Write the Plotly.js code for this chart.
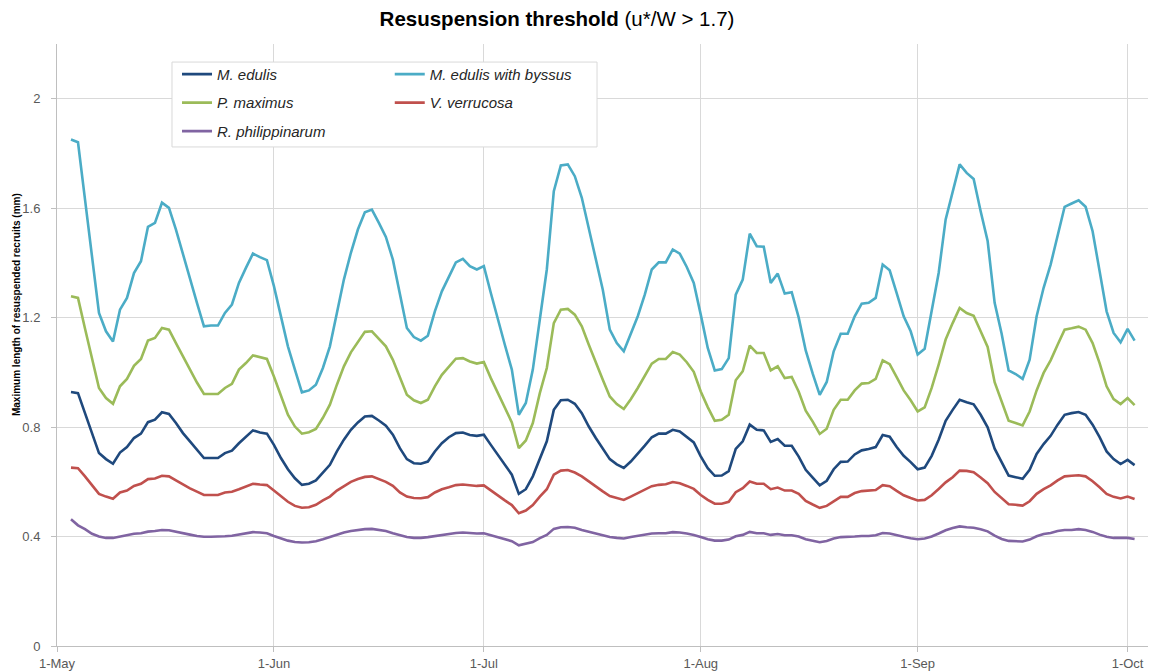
<!DOCTYPE html>
<html>
<head>
<meta charset="utf-8">
<script src="https://cdn.plot.ly/plotly-3.0.1.min.js"></script>
<style>html,body{margin:0;padding:0;background:#fff;}#chart{width:1154px;height:672px;}</style>
</head>
<body>
<div id="chart"></div>
<script>
// Daily series, first day and number of days
const startDate = [2013, 4, 3]; // 3 May 2013 (month is 0-based)
const nDays = 153;

const seriesNames = ["M. edulis", "M. edulis with byssus", "P. maximus", "V. verrucosa", "R. philippinarum"];
const seriesColors = ["#1f497d", "#4bacc6", "#9bbb59", "#c0504d", "#8064a2"];

const mEdulisByssus = [
1.851,1.841,1.632,1.424,1.217,1.150,1.113,1.229,1.272,1.363,1.406,1.532,1.546,1.620,1.601,1.522,1.430,1.339,1.254,1.168,
1.171,1.171,1.217,1.248,1.327,1.382,1.434,1.421,1.410,1.315,1.205,1.095,1.010,0.927,0.934,0.955,1.016,1.095,1.217,1.339,
1.437,1.522,1.585,1.595,1.546,1.495,1.412,1.290,1.162,1.129,1.116,1.134,1.223,1.296,1.351,1.402,1.415,1.388,1.376,1.388,
1.290,1.193,1.101,1.010,0.845,0.888,1.010,1.193,1.376,1.662,1.756,1.760,1.717,1.638,1.522,1.412,1.302,1.156,1.107,1.077,
1.141,1.205,1.284,1.376,1.402,1.402,1.449,1.434,1.385,1.327,1.211,1.089,1.007,1.012,1.052,1.284,1.339,1.507,1.461,1.459,
1.327,1.361,1.288,1.293,1.200,1.080,0.995,0.918,0.965,1.077,1.141,1.141,1.205,1.251,1.254,1.272,1.394,1.373,1.290,1.205,
1.150,1.065,1.086,1.220,1.363,1.559,1.656,1.760,1.729,1.707,1.589,1.480,1.254,1.141,1.007,0.994,0.976,1.046,1.205,1.309,
1.394,1.504,1.605,1.617,1.629,1.605,1.516,1.370,1.223,1.144,1.110,1.159,1.116];

const pMaximus = [
1.278,1.272,1.160,1.049,0.943,0.906,0.885,0.949,0.976,1.024,1.049,1.116,1.126,1.162,1.156,1.107,1.059,1.010,0.963,0.921,
0.921,0.921,0.943,0.958,1.010,1.034,1.062,1.056,1.049,0.985,0.912,0.845,0.802,0.776,0.781,0.793,0.834,0.882,0.955,1.022,
1.073,1.113,1.148,1.150,1.122,1.095,1.046,0.985,0.918,0.898,0.888,0.900,0.949,0.991,1.020,1.050,1.052,1.040,1.032,1.038,
0.979,0.924,0.870,0.817,0.723,0.751,0.815,0.924,1.016,1.180,1.229,1.232,1.211,1.168,1.101,1.034,0.973,0.912,0.884,0.866,
0.902,0.943,0.988,1.032,1.049,1.049,1.074,1.065,1.037,1.002,0.930,0.873,0.823,0.827,0.845,0.971,1.004,1.098,1.071,1.071,
1.007,1.022,0.979,0.983,0.929,0.860,0.820,0.775,0.794,0.863,0.900,0.900,0.934,0.959,0.961,0.976,1.044,1.030,0.983,0.934,
0.898,0.857,0.872,0.943,1.028,1.120,1.180,1.235,1.217,1.207,1.150,1.093,0.964,0.890,0.823,0.815,0.806,0.857,0.934,0.998,
1.044,1.101,1.156,1.161,1.167,1.156,1.107,1.034,0.949,0.902,0.884,0.906,0.880];

const mEdulis = [
0.928,0.924,0.851,0.778,0.705,0.683,0.666,0.707,0.727,0.760,0.776,0.818,0.827,0.854,0.848,0.815,0.778,0.748,0.717,0.687,
0.687,0.687,0.705,0.714,0.741,0.766,0.788,0.780,0.776,0.735,0.687,0.646,0.613,0.589,0.593,0.605,0.632,0.662,0.711,0.754,
0.790,0.817,0.839,0.841,0.824,0.805,0.772,0.723,0.683,0.668,0.666,0.674,0.711,0.741,0.763,0.778,0.780,0.771,0.768,0.772,
0.735,0.699,0.662,0.626,0.556,0.573,0.620,0.687,0.748,0.863,0.898,0.900,0.885,0.851,0.802,0.760,0.720,0.683,0.664,0.651,
0.674,0.702,0.732,0.763,0.776,0.776,0.790,0.784,0.763,0.744,0.693,0.650,0.622,0.623,0.639,0.720,0.748,0.809,0.790,0.788,
0.746,0.756,0.732,0.732,0.692,0.644,0.615,0.587,0.604,0.646,0.673,0.674,0.700,0.715,0.720,0.727,0.771,0.765,0.727,0.695,
0.672,0.646,0.652,0.695,0.754,0.823,0.863,0.900,0.891,0.883,0.845,0.799,0.721,0.671,0.623,0.617,0.611,0.644,0.702,0.738,
0.768,0.809,0.845,0.851,0.855,0.845,0.809,0.763,0.711,0.683,0.665,0.680,0.661];

const vVerrucosa = [
0.652,0.650,0.620,0.588,0.556,0.546,0.538,0.561,0.568,0.585,0.593,0.610,0.612,0.622,0.620,0.605,0.589,0.576,0.564,0.552,
0.552,0.552,0.561,0.564,0.573,0.583,0.593,0.590,0.588,0.568,0.546,0.527,0.512,0.505,0.507,0.516,0.532,0.546,0.568,0.585,
0.600,0.610,0.618,0.620,0.610,0.600,0.585,0.561,0.546,0.541,0.540,0.544,0.561,0.573,0.580,0.588,0.590,0.587,0.585,0.587,
0.568,0.549,0.532,0.515,0.485,0.495,0.515,0.546,0.573,0.626,0.641,0.643,0.634,0.620,0.601,0.583,0.565,0.548,0.540,0.534,
0.546,0.559,0.571,0.584,0.589,0.591,0.599,0.595,0.585,0.574,0.552,0.534,0.520,0.520,0.527,0.562,0.577,0.601,0.593,0.593,
0.573,0.579,0.568,0.568,0.556,0.530,0.517,0.505,0.512,0.530,0.545,0.545,0.559,0.566,0.568,0.570,0.588,0.584,0.567,0.551,
0.541,0.532,0.534,0.551,0.574,0.598,0.617,0.641,0.640,0.635,0.616,0.595,0.563,0.539,0.518,0.516,0.513,0.529,0.556,0.573,
0.587,0.605,0.620,0.622,0.624,0.620,0.602,0.580,0.556,0.545,0.539,0.546,0.537];

const rPhilippinarum = [
0.463,0.441,0.427,0.410,0.400,0.395,0.395,0.400,0.405,0.410,0.412,0.418,0.420,0.424,0.423,0.417,0.412,0.407,0.402,0.399,
0.399,0.399,0.401,0.403,0.407,0.411,0.416,0.415,0.412,0.402,0.393,0.385,0.380,0.378,0.379,0.383,0.390,0.398,0.407,0.415,
0.420,0.424,0.427,0.428,0.424,0.420,0.412,0.405,0.398,0.395,0.395,0.398,0.402,0.407,0.410,0.413,0.415,0.412,0.411,0.412,
0.405,0.398,0.390,0.383,0.368,0.373,0.380,0.394,0.406,0.428,0.434,0.435,0.432,0.424,0.417,0.410,0.404,0.398,0.395,0.393,
0.398,0.402,0.407,0.411,0.412,0.412,0.416,0.415,0.411,0.406,0.398,0.390,0.385,0.385,0.389,0.401,0.406,0.417,0.412,0.412,
0.406,0.409,0.405,0.405,0.400,0.390,0.385,0.379,0.384,0.393,0.398,0.398,0.400,0.402,0.402,0.405,0.413,0.411,0.404,0.399,
0.394,0.390,0.393,0.400,0.411,0.423,0.431,0.437,0.434,0.432,0.427,0.419,0.403,0.391,0.384,0.383,0.382,0.389,0.401,0.409,
0.413,0.420,0.424,0.424,0.427,0.424,0.417,0.407,0.399,0.395,0.394,0.395,0.391];

const dates = [];
for (let i = 0; i < nDays; i++) {
  dates.push(new Date(Date.UTC(startDate[0], startDate[1], startDate[2] + i)).toISOString().slice(0, 10));
}

const FONT = "Liberation Sans, Arial, sans-serif";
const seriesValues = [mEdulis, mEdulisByssus, pMaximus, vVerrucosa, rPhilippinarum];
const legendOf = ["legend", "legend2", "legend", "legend2", "legend"];

const traces = seriesNames.map((name, k) => ({
  type: "scatter",
  mode: "lines",
  x: dates,
  y: seriesValues[k],
  name: "<i>" + name + "</i>",
  legend: legendOf[k],
  legendgroup: "g" + k,
  line: {color: seriesColors[k], width: 2.6},
  hoverinfo: "skip"
}));

const legendCommon = {
  xanchor: "left", yanchor: "top",
  bgcolor: "rgba(0,0,0,0)", borderwidth: 0,
  font: {family: FONT, size: 15, color: "#262626"},
  traceorder: "grouped", tracegroupgap: 6,
  orientation: "v"
};

const layout = {
  width: 1154, height: 672,
  margin: {l: 57, r: 6, t: 44, b: 26, pad: 0},
  paper_bgcolor: "#ffffff", plot_bgcolor: "#ffffff",
  font: {family: FONT, color: "#595959"},
  showlegend: true,
  title: {
    text: "<b>Resuspension threshold</b> (u*/W &gt; 1.7)",
    font: {family: FONT, size: 20.5, color: "#000000"},
    x: 0.4827, xref: "container", xanchor: "center",
    y: 0.972, yref: "container", yanchor: "middle"
  },
  xaxis: {
    type: "date",
    range: ["2013-05-01", "2013-10-03 22:00"],
    tick0: "2013-05-01", dtick: "M1", tickformat: "%-d-%b",
    showgrid: true, gridcolor: "#d9d9d9", gridwidth: 1,
    showline: true, linecolor: "#bfbfbf", linewidth: 1,
    ticks: "outside", ticklen: 5, tickcolor: "#bfbfbf",
    tickfont: {family: FONT, size: 13, color: "#595959"},
    zeroline: false, fixedrange: true
  },
  yaxis: {
    range: [0, 2.2], tick0: 0, dtick: 0.4,
    showgrid: true, gridcolor: "#d9d9d9", gridwidth: 1,
    showline: true, linecolor: "#bfbfbf", linewidth: 1,
    ticks: "outside", ticklen: 5, tickcolor: "#bfbfbf",
    ticklabelstandoff: 8,
    tickfont: {family: FONT, size: 13, color: "#595959"},
    zeroline: false, fixedrange: true
  },
  annotations: [{
    text: "<b>Maximum length of resuspended recruits (mm)</b>",
    xref: "paper", yref: "paper",
    x: -0.0376, y: 0.568, xanchor: "center", yanchor: "middle",
    textangle: -90, showarrow: false,
    font: {family: FONT, size: 10, color: "#000000"}
  }],
  legend: Object.assign({}, legendCommon, {x: 0.1100, y: 0.977}),
  legend2: Object.assign({}, legendCommon, {x: 0.305, y: 0.977}),
  shapes: [{
    type: "rect", xref: "paper", yref: "paper",
    x0: 0.1054, x1: 0.495, y0: 0.829, y1: 0.970,
    line: {color: "#d9d9d9", width: 1}, fillcolor: "#ffffff", layer: "above"
  }],
  hovermode: false
};

Plotly.newPlot("chart", traces, layout, {displayModeBar: false, staticPlot: true});
</script>
</body>
</html>
